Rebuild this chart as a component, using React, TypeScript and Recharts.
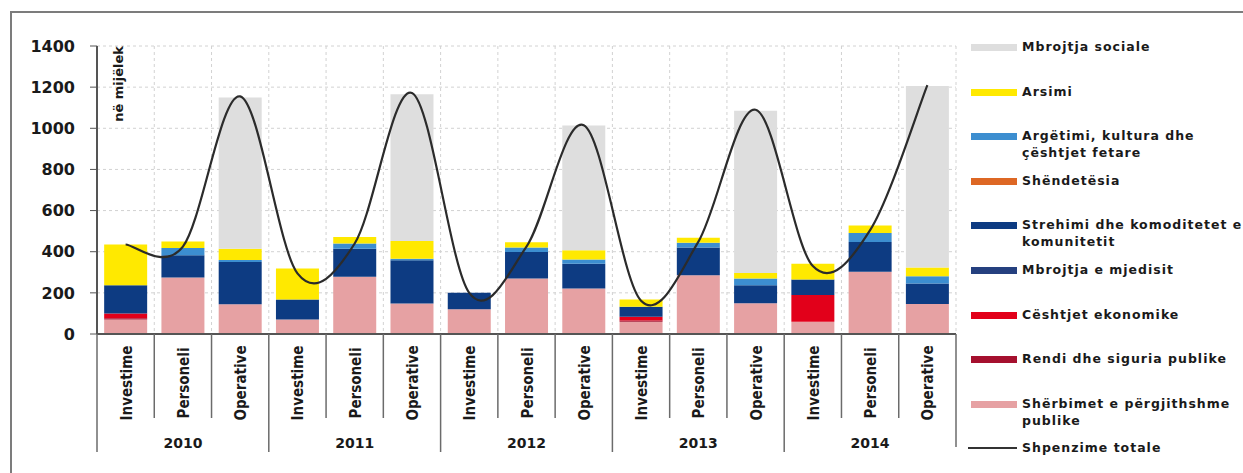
import React from "react";
import {
  Bar,
  CartesianGrid,
  ComposedChart,
  Line,
  XAxis,
  YAxis,
} from "recharts";

// categories
const years = ["2010", "2011", "2012", "2013", "2014"];
const types = ["Investime", "Personeli", "Operative"];

// series values (në mijëlek), bottom of the stack first
const sherbimet = [70, 275, 145, 70, 278, 148, 120, 270, 221, 60, 286, 149, 60, 302, 146];
const rendi = [6, 0, 0, 0, 0, 0, 0, 0, 0, 6, 0, 0, 0, 0, 0];
const ekonomike = [24, 0, 0, 0, 0, 0, 0, 0, 0, 18, 0, 0, 129, 0, 0];
const mjedisit = [0, 0, 0, 0, 0, 0, 0, 0, 0, 0, 0, 0, 0, 0, 0];
const strehimi = [137, 108, 205, 98, 137, 210, 80, 129, 121, 48, 134, 88, 76, 145, 99];
const shendetesia = [0, 0, 0, 0, 0, 0, 0, 0, 0, 0, 0, 0, 0, 0, 0];
const argetimi = [0, 35, 10, 0, 25, 8, 0, 21, 20, 0, 23, 33, 0, 44, 36];
const arsimi = [198, 32, 55, 150, 31, 86, 0, 26, 45, 36, 25, 27, 77, 37, 42];
const sociale = [0, 0, 735, 0, 0, 714, 0, 0, 606, 0, 0, 788, 0, 0, 883];
const totale = [435, 425, 1155, 295, 440, 1172, 200, 425, 1015, 162, 448, 1090, 330, 505, 1210];

const yTicks = [0, 200, 400, 600, 800, 1000, 1200, 1400];

const series = [
  { key: "sherbimet", name: "Shërbimet e përgjithshme publike", lines: ["Shërbimet e përgjithshme", "publike"], color: "#E6A1A3", values: sherbimet },
  { key: "rendi", name: "Rendi dhe siguria publike", lines: ["Rendi dhe siguria publike"], color: "#A5102E", values: rendi },
  { key: "ekonomike", name: "Cështjet ekonomike", lines: ["Cështjet ekonomike"], color: "#E2001A", values: ekonomike },
  { key: "mjedisit", name: "Mbrojtja e mjedisit", lines: ["Mbrojtja e mjedisit"], color: "#25407F", values: mjedisit },
  { key: "strehimi", name: "Strehimi dhe komoditetet e komunitetit", lines: ["Strehimi dhe komoditetet e", "komunitetit"], color: "#0D3B82", values: strehimi },
  { key: "shendetesia", name: "Shëndetësia", lines: ["Shëndetësia"], color: "#DD6724", values: shendetesia },
  { key: "argetimi", name: "Argëtimi, kultura dhe çështjet fetare", lines: ["Argëtimi, kultura dhe", "çështjet fetare"], color: "#3C8ED0", values: argetimi },
  { key: "arsimi", name: "Arsimi", lines: ["Arsimi"], color: "#FFE900", values: arsimi },
  { key: "sociale", name: "Mbrojtja sociale", lines: ["Mbrojtja sociale"], color: "#DEDEDE", values: sociale },
];

const data = years.flatMap((year, yi) =>
  types.map((type, ti) => {
    const i = yi * 3 + ti;
    const row: Record<string, string | number> = { id: i, year, type, total: totale[i] };
    series.forEach((s) => (row[s.key] = s.values[i]));
    return row;
  })
);

const W = 1243;
const H = 473;
const LEFT = 97;
const RIGHT = 956;
const TOP = 46;
const BOTTOM = 334;
const CW = (RIGHT - LEFT) / data.length;

const FONT = "'DejaVu Sans', Verdana, sans-serif";
const NARROW = "'Liberation Sans Narrow', 'DejaVu Sans Condensed', 'Open Sans', sans-serif";

// Catmull-Rom style smoothing (like Excel's smoothed line)
function smooth(context: any) {
  let pts: number[][] = [];
  return {
    areaStart() {},
    areaEnd() {},
    lineStart() {
      pts = [];
    },
    point(x: number, y: number) {
      pts.push([+x, +y]);
    },
    lineEnd() {
      if (!pts.length) return;
      context.moveTo(pts[0][0], pts[0][1]);
      for (let i = 0; i < pts.length - 1; i++) {
        const p0 = pts[i - 1] ?? pts[i];
        const p1 = pts[i];
        const p2 = pts[i + 1];
        const p3 = pts[i + 2] ?? p2;
        context.bezierCurveTo(
          p1[0] + (p2[0] - p0[0]) / 6,
          p1[1] + (p2[1] - p0[1]) / 6,
          p2[0] - (p3[0] - p1[0]) / 6,
          p2[1] - (p3[1] - p1[1]) / 6,
          p2[0],
          p2[1]
        );
      }
    },
  };
}

function CategoryTick(props: any) {
  const { x, payload } = props;
  const i = payload.index as number;
  const row = data[i];
  const stroke = "#6b6b6b";
  return (
    <g>
      <text
        transform={`translate(${x + 1},${BOTTOM + 49}) rotate(-90)`}
        textAnchor="middle"
        dominantBaseline="central"
        fontFamily={NARROW}
        fontWeight="bold"
        fontSize={15}
        fill="#1a1a1a"
      >
        {row.type}
      </text>
      <line
        x1={x + CW / 2}
        x2={x + CW / 2}
        y1={BOTTOM}
        y2={i === data.length - 1 ? 447 : i % 3 === 2 ? 452 : 418}
        stroke={stroke}
        strokeWidth={1.5}
      />
      {i === 0 && (
        <line x1={x - CW / 2} x2={x - CW / 2} y1={BOTTOM} y2={452} stroke={stroke} strokeWidth={1.5} />
      )}
      {i % 3 === 1 && (
        <text
          x={x}
          y={443}
          textAnchor="middle"
          dominantBaseline="central"
          fontFamily={FONT}
          fontWeight="bold"
          fontSize={14}
          fill="#1a1a1a"
        >
          {row.year}
        </text>
      )}
    </g>
  );
}

const legendText: React.CSSProperties = {
  position: "absolute",
  left: 54,
  top: -9,
  fontFamily: FONT,
  fontWeight: "bold",
  fontSize: 12.5,
  letterSpacing: 1,
  lineHeight: "17px",
  color: "#1a1a1a",
  whiteSpace: "nowrap",
};

function Legend() {
  const items = [...series].reverse();
  return (
    <div style={{ position: "absolute", left: 968, top: 47, width: 275 }}>
      {items.map((s, k) => (
        <div key={s.key} style={{ position: "absolute", top: k * 44.6, left: 0 }}>
          <div
            style={{
              position: "absolute",
              left: 3,
              top: -3,
              width: 46,
              height: 7,
              background: s.color,
            }}
          />
          <div style={legendText}>
            {s.lines.map((l) => (
              <div key={l}>{l}</div>
            ))}
          </div>
        </div>
      ))}
      <div style={{ position: "absolute", top: series.length * 44.6, left: 0 }}>
        <div style={{ position: "absolute", left: 0, top: -1, width: 49, height: 2, background: "#333" }} />
        <div style={legendText}>Shpenzime totale</div>
      </div>
    </div>
  );
}

export default function App() {
  const verticalPoints = data.map((_, i) => LEFT + i * CW).concat([RIGHT]);
  return (
    <div
      style={{
        position: "absolute",
        left: 0,
        top: 0,
        width: W,
        height: H,
        overflow: "hidden",
        background: "#fff",
      }}
    >
      <div
        style={{
          position: "absolute",
          left: 10,
          top: 11,
          width: 1400,
          height: 600,
          borderLeft: "2px solid #7c7c7c",
          borderTop: "2px solid #7c7c7c",
        }}
      />
      <div style={{ position: "absolute", left: 0, top: 0 }}>
        <ComposedChart
          width={W}
          height={H}
          data={data}
          margin={{ top: TOP, right: W - RIGHT, left: 0, bottom: 0 }}
          barCategoryGap="12.5%"
        >
          <CartesianGrid
            stroke="#d2d2d2"
            strokeDasharray="3 3"
            verticalPoints={verticalPoints}
          />
          <XAxis
            dataKey="id"
            type="category"
            interval={0}
            height={H - BOTTOM}
            tickLine={false}
            axisLine={{ stroke: "#555", strokeWidth: 2 }}
            tick={<CategoryTick />}
          />
          <YAxis
            width={LEFT}
            domain={[0, 1400]}
            ticks={yTicks}
            tickSize={7}
            tickMargin={15}
            axisLine={{ stroke: "#555", strokeWidth: 2 }}
            tickLine={{ stroke: "#555" }}
            tick={{ fontFamily: FONT, fontWeight: "bold", fontSize: 16, fill: "#1a1a1a" }}
            label={{
              content: () => (
                <text
                  transform={`translate(${LEFT + 21},${TOP}) rotate(-90)`}
                  textAnchor="end"
                  dominantBaseline="central"
                  fontFamily={FONT}
                  fontWeight="bold"
                  fontSize={13}
                  fill="#1a1a1a"
                >
                  në mijëlek
                </text>
              ),
            }}
          />
          {series.map((s) => (
            <Bar
              key={s.key}
              dataKey={s.key}
              name={s.name}
              stackId="a"
              fill={s.color}
              isAnimationActive={false}
            />
          ))}
          <Line
            dataKey="total"
            name="Shpenzime totale"
            type={smooth as any}
            stroke="#2b2b2b"
            strokeWidth={2.2}
            dot={false}
            activeDot={false}
            isAnimationActive={false}
          />
        </ComposedChart>
      </div>
      <Legend />
    </div>
  );
}
